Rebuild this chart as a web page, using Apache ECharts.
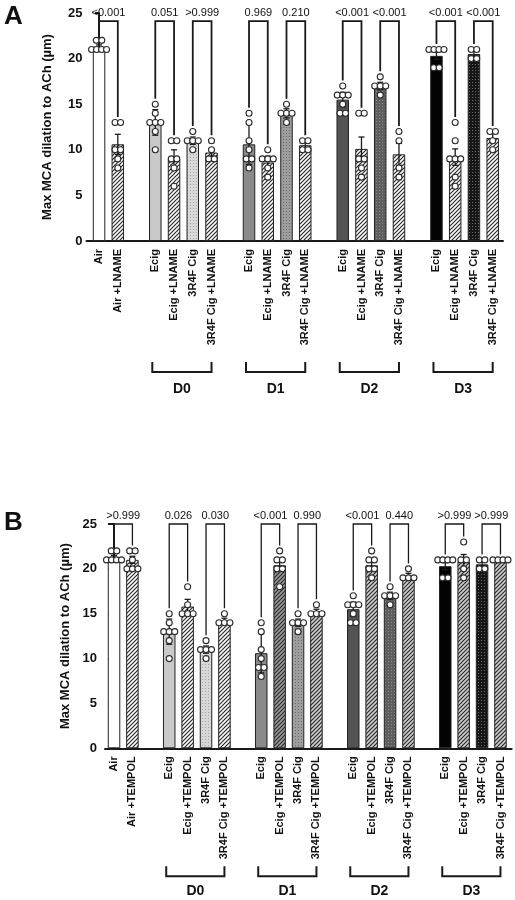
<!DOCTYPE html>
<html><head><meta charset="utf-8">
<script src="https://cdn.jsdelivr.net/npm/echarts@6/dist/echarts.min.js"></script>
<style>html,body{margin:0;padding:0;background:#fff}#c{width:515px;height:900px}</style>
</head><body><div id="c"></div>
<script>
// ---------- data ----------
// slot index of each bar on the x axis (gaps between groups)
const SLOTS = [0, 1, 3, 4, 5, 6, 8, 9, 10, 11, 13, 14, 15, 16, 18, 19, 20, 21];

const labelsA = ["Air", "Air +LNAME",
  "Ecig", "Ecig +LNAME", "3R4F Cig", "3R4F Cig +LNAME",
  "Ecig", "Ecig +LNAME", "3R4F Cig", "3R4F Cig +LNAME",
  "Ecig", "Ecig +LNAME", "3R4F Cig", "3R4F Cig +LNAME",
  "Ecig", "Ecig +LNAME", "3R4F Cig", "3R4F Cig +LNAME"];
const labelsB = ["Air", "Air +TEMPOL",
  "Ecig", "Ecig +TEMPOL", "3R4F Cig", "3R4F Cig +TEMPOL",
  "Ecig", "Ecig +TEMPOL", "3R4F Cig", "3R4F Cig +TEMPOL",
  "Ecig", "Ecig +TEMPOL", "3R4F Cig", "3R4F Cig +TEMPOL",
  "Ecig", "Ecig +TEMPOL", "3R4F Cig", "3R4F Cig +TEMPOL"];

const meansA = [21.3, 10.6, 13.0, 9.0, 11.0, 9.7, 10.6, 8.6, 14.0, 10.5, 15.5, 10.1, 17.0, 9.5, 20.3, 9.2, 20.5, 11.3];
const errA   = [0.2, 1.1, 1.4, 1.0, 0.4, 0.4, 2.2, 0.7, 0.5, 0.4, 0.8, 1.3, 0.4, 1.2, 0.4, 0.9, 0.3, 0.5];
const pointsA = [
  [22, 22, 21, 21, 21, 21], [13, 13, 10, 10, 9, 8],
  [15, 14, 13, 13, 13, 12, 10], [11, 11, 9, 9, 8, 6], [12, 11, 11, 11, 10], [11, 10, 9, 9],
  [14, 13, 11, 10, 9, 9, 8], [10, 9, 9, 9, 8, 7], [15, 14, 14, 14, 13], [11, 11, 10, 10],
  [17, 16, 16, 16, 15, 14, 14], [14, 14, 9, 9, 8, 7], [18, 17, 17, 17, 16], [12, 11, 8, 7],
  [21, 21, 21, 21, 19, 19], [13, 11, 9, 9, 9, 7, 6], [21, 21, 20, 20], [12, 12, 11, 10]];
const pValuesA = ["<0.001", "0.051", ">0.999", "0.969", "0.210", "<0.001", "<0.001", "<0.001", "<0.001"];

const meansB = [21.3, 21.0, 13.0, 15.8, 11.0, 14.2, 10.6, 20.4, 14.0, 15.2, 15.5, 20.4, 17.0, 19.2, 20.3, 20.8, 20.5, 21.0];
const errB   = [0.2, 0.4, 1.4, 0.8, 0.4, 0.3, 2.2, 0.6, 0.4, 0.3, 0.8, 0.6, 0.4, 0.3, 0.4, 0.8, 0.3, 0];
const pointsB = [
  [22, 22, 21, 21, 21, 21], [22, 22, 21, 20, 20, 20],
  [15, 14, 13, 13, 13, 12, 10], [18, 16, 15, 15, 15], [12, 11, 11, 11, 10], [15, 14, 14, 14],
  [14, 13, 11, 10, 9, 9, 8], [22, 21, 21, 20, 20, 18], [15, 14, 14, 14, 13], [16, 15, 15, 15],
  [17, 16, 16, 16, 15, 14, 14], [22, 21, 21, 20, 20, 19], [18, 17, 17, 17, 16], [20, 19, 19, 19],
  [21, 21, 21, 21, 19, 19], [23, 21, 21, 20, 19], [21, 21, 20, 20], [21, 21, 21, 21]];
const pValuesB = [">0.999", "0.026", "0.030", "<0.001", "0.990", "<0.001", "0.440", ">0.999", ">0.999"];

const comparisons = [[0, 1], [2, 3], [4, 5], [6, 7], [8, 9], [10, 11], [12, 13], [14, 15], [16, 17]];
const groupNames = ["D0", "D1", "D2", "D3"];
const groupBars = [[2, 5], [6, 9], [10, 13], [14, 17]];
const yMin = 0, yMax = 25, yStep = 5;
const yName = "Max MCA dilation to ACh (µm)";
const panelLetters = ["A", "B"];

// ---------- styles ----------
const FONT = '"Liberation Sans", Arial, sans-serif';
function hatch(bg, fg) {
  const c = document.createElement('canvas'); c.width = 4; c.height = 4;
  const g = c.getContext('2d');
  g.fillStyle = bg; g.fillRect(0, 0, 4, 4);
  g.strokeStyle = fg; g.lineWidth = 1.2; g.beginPath();
  g.moveTo(0, 4); g.lineTo(4, 0);
  g.moveTo(-1, 1); g.lineTo(1, -1);
  g.moveTo(3, 5); g.lineTo(5, 3);
  g.stroke();
  return { image: c, repeat: 'repeat' };
}
function dotted(bg, fg) {
  const c = document.createElement('canvas'); c.width = 3; c.height = 3;
  const g = c.getContext('2d');
  g.fillStyle = bg; g.fillRect(0, 0, 3, 3);
  g.fillStyle = fg; g.fillRect(1, 1, 1, 1);
  return { image: c, repeat: 'repeat' };
}
const HA = hatch('#ffffff', '#2a2a2a');
const fillsA = ['#ffffff', HA, '#c9c9c9', HA, dotted('#d8d8d8', '#a6a6a6'), HA,
  '#8a8a8a', HA, dotted('#9e9e9e', '#6a6a6a'), HA,
  '#545454', HA, dotted('#5e5e5e', '#8e8e8e'), HA,
  '#030303', HA, dotted('#161616', '#6a6a6a'), HA];
const HB1 = hatch('#ffffff', '#2a2a2a');
const HB2 = hatch('#9a9a9a', '#2a2a2a');
const HB3 = hatch('#d0d0d0', '#2a2a2a');
const fillsB = ['#ffffff', HB1, '#c9c9c9', HB1, dotted('#d8d8d8', '#a6a6a6'), HB1,
  '#8a8a8a', HB2, dotted('#9e9e9e', '#6a6a6a'), HB3,
  '#545454', HB3, dotted('#5e5e5e', '#8e8e8e'), HB3,
  '#030303', HB3, dotted('#161616', '#6a6a6a'), HB3];

const panels = [
  { grid: { left: 86.5, top: 13, width: 416.5, height: 228 }, xmin: -0.67, xmax: 21.55,
    labels: labelsA, means: meansA, err: errA, points: pointsA, pv: pValuesA, fills: fillsA,
    sigTop: 24.1, sigLW: 1.8, tickLen: 4, labMargin: 4, nameGap: 33,
    gTop: 121, gBot: 131, gLab: 148, letterY: 4 },
  { grid: { left: 105, top: 524, width: 406.7, height: 224.3 }, xmin: -0.49, xmax: 21.61,
    labels: labelsB, means: meansB, err: errB, points: pointsB, pv: pValuesB, fills: fillsB,
    sigTop: 25.0, sigLW: 1.3, tickLen: 6, labMargin: 8, nameGap: 27,
    gTop: 118, gBot: 128, gLab: 143, letterY: 510 }
];

function textStyle(o) {
  return Object.assign({ fill: '#111', align: o.textAlign, verticalAlign: o.textVerticalAlign }, o);
}

const grids = [], xAxes = [], yAxes = [], series = [], graphics = [];
panels.forEach((P, pi) => {
  grids.push(P.grid);
  xAxes.push({
    gridIndex: pi, type: 'value', min: P.xmin, max: P.xmax,
    splitLine: { show: false },
    axisLine: { show: true, onZero: false, lineStyle: { color: '#1a1a1a', width: 2 } },
    axisTick: { show: false },
    axisLabel: {
      show: true, rotate: 90, margin: 8, customValues: SLOTS,
      fontFamily: FONT, fontWeight: 'bold', fontSize: 11, color: '#111',
      formatter: v => { const k = SLOTS.indexOf(Math.round(v)); return k >= 0 ? P.labels[k] : ''; }
    }
  });
  yAxes.push({
    gridIndex: pi, type: 'value', min: yMin, max: yMax, interval: yStep,
    name: yName, nameLocation: 'middle', nameGap: P.nameGap, nameRotate: 90,
    nameTextStyle: { fontFamily: FONT, fontWeight: 'bold', fontSize: 13, color: '#111' },
    splitLine: { show: false },
    axisLine: { show: true, lineStyle: { color: '#1a1a1a', width: 2 } },
    axisTick: { show: true, length: P.tickLen, lineStyle: { color: '#1a1a1a', width: 2 } },
    axisLabel: { margin: P.labMargin, fontFamily: FONT, fontWeight: 'bold', fontSize: 13, color: '#111' }
  });

  // bars
  series.push({
    type: 'bar', xAxisIndex: pi, yAxisIndex: pi, barWidth: 12.5, z: 2,
    itemStyle: { borderColor: '#222', borderWidth: 1 },
    data: SLOTS.map((s, j) => ({ value: [s, P.means[j]], itemStyle: { color: P.fills[j] } }))
  });

  // error bars
  series.push({
    type: 'custom', xAxisIndex: pi, yAxisIndex: pi, z: 3,
    data: SLOTS.map((s, j) => [s, P.means[j], P.err[j]]),
    renderItem: (params, api) => {
      const x = api.value(0), m = api.value(1), e = api.value(2);
      if (!e) return null;
      const t = api.coord([x, m + e]), b = api.coord([x, m - e]);
      const st = { stroke: '#1a1a1a', lineWidth: 1.3 };
      return { type: 'group', children: [
        { type: 'line', shape: { x1: t[0], y1: t[1], x2: b[0], y2: b[1] }, style: st },
        { type: 'line', shape: { x1: t[0] - 3, y1: t[1], x2: t[0] + 3, y2: t[1] }, style: st },
        { type: 'line', shape: { x1: b[0] - 3, y1: b[1], x2: b[0] + 3, y2: b[1] }, style: st }
      ] };
    }
  });

  // individual points (equal values spread sideways)
  const dotData = [];
  SLOTS.forEach((s, j) => {
    const pts = P.points[j];
    const counts = {}, seen = {};
    pts.forEach(v => { counts[v] = (counts[v] || 0) + 1; });
    pts.forEach(v => {
      const n = counts[v], k = seen[v] || 0; seen[v] = k + 1;
      const sp = n > 1 ? Math.min(5.5, 15 / (n - 1)) : 0;
      dotData.push([s, v, (k - (n - 1) / 2) * sp]);
    });
  });
  series.push({
    type: 'custom', xAxisIndex: pi, yAxisIndex: pi, z: 4, data: dotData,
    renderItem: (params, api) => {
      const p = api.coord([api.value(0), api.value(1)]);
      return { type: 'circle', shape: { cx: p[0] + api.value(2), cy: p[1], r: 3 },
        style: { fill: '#ffffff', stroke: '#2a2a2a', lineWidth: 1.1 } };
    }
  });

  // significance brackets
  series.push({
    type: 'custom', xAxisIndex: pi, yAxisIndex: pi, z: 5, clip: false,
    data: comparisons.map(([a, b]) => [SLOTS[a], SLOTS[b],
      Math.max(...P.points[a]) + 0.6, Math.max(...P.points[b]) + 0.6, P.sigTop]),
    renderItem: (params, api) => {
      const xl = api.value(0), xr = api.value(1), top = api.value(4);
      const p1 = api.coord([xl, api.value(2)]), p2 = api.coord([xl, top]);
      const p3 = api.coord([xr, top]), p4 = api.coord([xr, api.value(3)]);
      return { type: 'group', children: [
        { type: 'polyline', shape: { points: [p1, p2, p3, p4] },
          style: { stroke: '#1a1a1a', lineWidth: P.sigLW, fill: null } },
        { type: 'text', style: textStyle({ text: P.pv[params.dataIndex], x: (p2[0] + p3[0]) / 2, y: p2[1] - 3,
          font: '11px ' + FONT, textAlign: 'center', textVerticalAlign: 'bottom' }) }
      ] };
    }
  });

  // day group brackets under the axis labels
  series.push({
    type: 'custom', xAxisIndex: pi, yAxisIndex: pi, z: 5, clip: false,
    data: groupBars.map(([a, b]) => [SLOTS[a], SLOTS[b]]),
    renderItem: (params, api) => {
      const pa = api.coord([api.value(0), 0]), pb = api.coord([api.value(1), 0]);
      const y0 = pa[1], xl = pa[0] - 3, xr = pb[0];
      return { type: 'group', children: [
        { type: 'polyline', shape: { points: [[xl, y0 + P.gTop], [xl, y0 + P.gBot], [xr, y0 + P.gBot], [xr, y0 + P.gTop]] },
          style: { stroke: '#1a1a1a', lineWidth: 2, fill: null } },
        { type: 'text', style: textStyle({ text: groupNames[params.dataIndex], x: (xl + xr) / 2, y: y0 + P.gLab,
          font: 'bold 14px ' + FONT, textAlign: 'center', textVerticalAlign: 'middle' }) }
      ] };
    }
  });

  graphics.push({ type: 'text', left: 4, top: P.letterY,
    style: { text: panelLetters[pi], font: 'bold 26px ' + FONT, fill: '#111' } });
});

const chart = echarts.init(document.getElementById('c'), null, { renderer: 'canvas' });
chart.setOption({
  animation: false, backgroundColor: '#ffffff',
  grid: grids, xAxis: xAxes, yAxis: yAxes, series: series, graphic: graphics
});
</script></body></html>
